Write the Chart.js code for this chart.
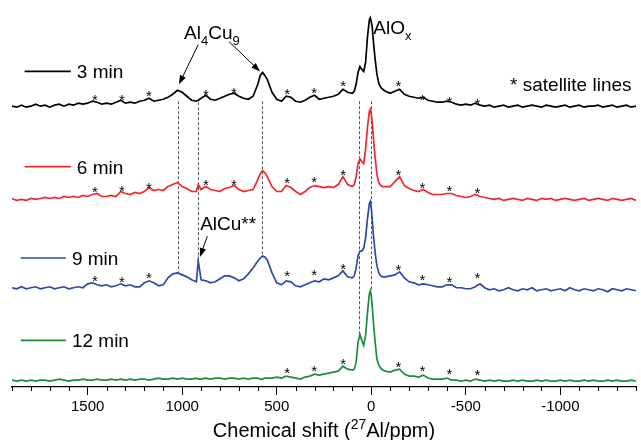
<!DOCTYPE html>
<html>
<head>
<meta charset="utf-8">
<title>27Al NMR spectra</title>
<script src="https://cdn.jsdelivr.net/npm/chart.js@4.4.1/dist/chart.umd.min.js"></script>
<style>
  html, body { margin: 0; padding: 0; background: #fff; }
  canvas { display: block; }
</style>
</head>
<body>
<canvas id="chart" width="641" height="440"></canvas>
<script>
// chemical shift grid (ppm), denser around the peaks
const ppm = [
  1900, 1875, 1850, 1825, 1800, 1775, 1750, 1725, 1700, 1675,
  1650, 1625, 1600, 1575, 1550, 1525, 1500, 1475, 1450, 1425,
  1400, 1375, 1350, 1325, 1300, 1275, 1250, 1225, 1200, 1175,
  1150, 1125, 1100, 1075, 1050, 1025, 1000, 975, 950,
  925, 915, 900,
  875, 850, 825, 800, 775, 750, 725, 700,
  675, 650, 625, 600, 587, 575, 563, 550, 525, 500,
  475, 450, 425, 400, 375, 350, 325, 300,
  275, 250, 225, 200, 175, 150, 125, 100,
  90, 80, 70, 60, 50, 40, 30, 20, 10, 5, 0, -5, -10, -20, -30, -40, -50, -60,
  -75, -100, -125, -150, -175, -200, -225, -250, -275, -300,
  -325, -350, -375, -400, -425, -450, -475, -500, -525, -550,
  -575, -600, -625, -650, -675, -700, -725, -750, -775, -800,
  -825, -850, -875, -900, -925, -950, -975, -1000, -1025, -1050,
  -1075, -1100, -1125, -1150, -1175, -1200, -1225, -1250, -1275, -1300,
  -1325, -1350, -1375, -1400
];

// intensities, relative to its own baseline
const spec3min = [
  0, -1, 1, -1, 0, 2, 0, 1, -1, 1,
  2, 0, 2, 1, 3, 2, 3, 5, 4, 2,
  3, 2, 4, 6, 3, 4, 3, 5, 6, 8,
  5, 6, 7, 9, 12, 16, 14, 10, 6,
  5, 6, 8,
  11, 7, 6, 8, 10, 12, 13, 10,
  8, 7, 10, 22, 31, 34, 31, 27, 14, 7,
  5, 10, 9, 5, 4, 6, 9, 11,
  7, 8, 9, 10, 12, 17, 14, 13,
  15, 22, 34, 40, 37, 35, 44, 70, 87, 89, 85, 80, 68, 48, 32, 23, 19, 17,
  15, 13, 15, 17, 12, 10, 9, 8, 9, 6,
  5, 4, 4, 5, 4, 2, 1, 2, 1, 3,
  1, 0, 1, -1, 0, 1, -1, 0, 1, -1,
  0, 1, 0, -1, 1, 0, -1, 0, 1, -1,
  0, 1, -1, 0, 0, 1, -1, 0, 1, -1,
  0, 1, -1, 0
];
const spec6min = [
  1, -1, 0, -1, 1, 0, 1, 2, 1, 2,
  1, 3, 2, 3, 2, 4, 3, 5, 6, 3,
  3, 4, 3, 8, 6, 5, 7, 6, 8, 12,
  9, 10, 9, 13, 15, 17, 13, 11, 8,
  8, 15, 10,
  13, 10, 9, 8, 11, 12, 14, 10,
  8, 9, 10, 20, 26, 29, 27, 23, 13, 8,
  8, 14, 12, 8, 5, 8, 12, 14,
  13, 12, 13, 12, 15, 23, 15, 13,
  15, 23, 36, 41, 38, 36, 51, 73, 89, 91, 86, 78, 65, 43, 25, 17, 14, 13,
  13, 13, 18, 23, 14, 11, 9, 8, 10, 7,
  5, 5, 5, 6, 6, 4, 3, 2, 3, 5,
  3, 2, 1, 0, 1, -1, 0, 1, 0, -1,
  1, 0, -1, 1, 0, 1, -1, 0, 1, 0,
  -1, 0, 1, -1, 0, 1, 0, -1, 1, 0,
  -1, 0, 1, -1
];
const spec9min = [
  2, 1, 3, 1, 2, 3, 1, 2, 3, 1,
  2, 3, 1, 2, 3, 2, 6, 7, 5, 4,
  5, 3, 4, 6, 4, 5, 3, 3, 7, 9,
  7, 4, 5, 12, 16, 17, 15, 13, 10,
  8, 29, 10,
  9, 7, 8, 11, 14, 14, 12, 9,
  11, 16, 22, 29, 32, 34, 33, 30, 17, 7,
  5, 9, 8, 4, 3, 5, 7, 9,
  8, 11, 10, 12, 14, 19, 13, 12,
  14, 22, 34, 39, 39, 42, 52, 72, 87, 89, 82, 72, 58, 38, 24, 17, 14, 13,
  13, 14, 15, 18, 12, 8, 7, 5, 6, 5,
  4, 3, 3, 5, 5, 2, 2, 1, 1, 3,
  6, 2, 0, 1, -1, 0, 2, 0, -1, 1,
  0, 2, -1, 0, 1, -1, 0, 1, -1, 2,
  0, -1, 1, 0, -1, 1, 0, -2, 1, 0,
  -1, 1, 0, -1
];
const spec12min = [
  1, 0, 1, 0, 1, 0, 1, 1, 0, 1,
  2, 1, 0, 1, 1, 2, 1, 1, 2, 1,
  1, 2, 1, 2, 1, 2, 1, 2, 2, 1,
  2, 3, 2, 2, 3, 2, 3, 2, 2,
  3, 2, 2,
  3, 2, 3, 3, 2, 3, 3, 2,
  3, 2, 3, 3, 2, 2, 3, 3, 3, 4,
  3, 5, 4, 3, 2, 4, 5, 7,
  6, 7, 8, 9, 10, 15, 12, 11,
  12, 19, 39, 47, 41, 36, 46, 69, 88, 91, 86, 76, 62, 40, 22, 16, 13, 11,
  10, 9, 11, 12, 7, 5, 5, 4, 6, 3,
  2, 2, 2, 3, 1, 1, 0, 1, 0, 2,
  1, 0, 1, 0, 1, 0, 0, 1, 0, 1,
  0, 0, 1, 0, 1, 0, 0, 1, 0, 1,
  0, 0, 1, 0, 1, 0, 0, 1, 0, 1,
  0, 0, 1, 0
];

const seriesLabels = ['3 min', '6 min', '9 min', '12 min'];
const seriesData = [spec3min, spec6min, spec9min, spec12min];
const seriesColors = ['#000000', '#f0262b', '#3048a6', '#1c8b3d'];
const stackOffsets = [283, 189, 98, 6];

const tickValues = [1500, 1000, 500, 0, -500, -1000];

// spinning side bands marked with *
const starPpm = [1462, 1319, 1176, 874, 726, 445, 302, 148, -143, -270, -413, -561];
const stars3min = [10, 10, 14, 15, 17, 16, 17, 24, 24, 10, 8, 6];
const stars6min = [11, 12, 15, 18, 18, 20, 21, 28, 28, 15, 12, 10];
const stars9min = [12, 11, 15, null, null, 17, 18, 24, 23, 13, 11, 15];
const stars12min = [null, null, null, null, null, 12, 14, 21, 18, 14, 11, 10];
const seriesStars = [stars3min, stars6min, stars9min, stars12min];

// dashed guide lines: [ppm, from, to]
const guideLines = [[1022, 288, 115], [916, 287, 127], [577, 288, 132], [64, 288, 53], [3, 288, 97]];

const FONT = '"Liberation Sans", Arial, sans-serif';

function richText(ctx, parts, x, yMid, size) {
  const base = yMid + size * 0.36;
  let cx = x;
  for (const [txt, kind] of parts) {
    const fs = kind === 0 ? size : Math.round(size * 0.68);
    ctx.font = fs + 'px ' + FONT;
    const dy = kind < 0 ? size * 0.32 : kind > 0 ? -size * 0.4 : 0;
    ctx.fillText(txt, cx, base + dy);
    cx += ctx.measureText(txt).width;
  }
  return cx - x;
}

function arrow(ctx, x1, y1, x2, y2) {
  const a = Math.atan2(y2 - y1, x2 - x1);
  const len = 9, w = 3.2;
  const c = Math.cos(a), s = Math.sin(a);
  ctx.beginPath();
  ctx.moveTo(x1, y1);
  ctx.lineTo(x2 - c * len * 0.8, y2 - s * len * 0.8);
  ctx.stroke();
  ctx.beginPath();
  ctx.moveTo(x2, y2);
  ctx.lineTo(x2 - len * c + w * s, y2 - len * s - w * c);
  ctx.lineTo(x2 - len * c - w * s, y2 - len * s + w * c);
  ctx.closePath();
  ctx.fill();
}

const decor = {
  id: 'decor',
  beforeDatasetsDraw(chart) {
    const { ctx, scales: { x, y } } = chart;
    ctx.save();
    ctx.strokeStyle = '#555';
    ctx.lineWidth = 1;
    ctx.setLineDash([3, 2]);
    guideLines.forEach(([p, a, b]) => {
      const px = Math.round(x.getPixelForValue(p)) + 0.5;
      ctx.beginPath();
      ctx.moveTo(px, y.getPixelForValue(a));
      ctx.lineTo(px, y.getPixelForValue(b));
      ctx.stroke();
    });
    ctx.restore();
  },
  afterDatasetsDraw(chart) {
    const { ctx, chartArea, scales: { x, y } } = chart;
    ctx.save();
    ctx.fillStyle = '#000';
    ctx.strokeStyle = '#000';

    // side band stars
    ctx.font = '15px ' + FONT;
    ctx.textAlign = 'center';
    ctx.textBaseline = 'alphabetic';
    seriesStars.forEach((list, i) => {
      list.forEach((h, j) => {
        if (h === null) return;
        ctx.fillText('*', x.getPixelForValue(starPpm[j]), y.getPixelForValue(stackOffsets[i] + h) + 8.5);
      });
    });

    // legend entries next to each trace
    const legendFrom = [1833, 1833, 1854, 1854];
    const legendTo = [1589, 1589, 1615, 1615];
    const legendY = [318, 222, 130, 47];
    ctx.textAlign = 'left';
    seriesLabels.forEach((lab, i) => {
      const py = y.getPixelForValue(legendY[i]);
      const x2 = x.getPixelForValue(legendTo[i]);
      ctx.strokeStyle = seriesColors[i];
      ctx.lineWidth = 1.7;
      ctx.beginPath();
      ctx.moveTo(x.getPixelForValue(legendFrom[i]), py);
      ctx.lineTo(x2, py);
      ctx.stroke();
      ctx.fillStyle = '#000';
      richText(ctx, [[lab, 0]], x2 + 6, py, 19);
    });

    // peak labels
    ctx.fillStyle = '#000';
    ctx.strokeStyle = '#000';
    ctx.lineWidth = 1;
    const px = v => x.getPixelForValue(v);
    const py = v => y.getPixelForValue(v);
    richText(ctx, [['Al', 0], ['4', -1], ['Cu', 0], ['9', -1]], px(990), py(358), 19);
    richText(ctx, [['AlO', 0], ['x', -1]], px(-11), py(363), 19);
    richText(ctx, [['* satellite lines', 0]], px(-734), py(305), 19);
    richText(ctx, [['AlCu**', 0]], px(905), py(165), 19);
    arrow(ctx, px(915), py(345), px(1017), py(305));
    arrow(ctx, px(752), py(348), px(588), py(318));
    arrow(ctx, px(867), py(152), px(906), py(131));

    // minor ticks every 100 ppm
    ctx.lineWidth = 1;
    for (let v = -1400; v <= 1900; v += 100) {
      if (v % 500 === 0) continue;
      const tx = Math.round(px(v)) + 0.5;
      ctx.beginPath();
      ctx.moveTo(tx, chartArea.bottom);
      ctx.lineTo(tx, chartArea.bottom + 4);
      ctx.stroke();
    }

    // axis title with superscript
    const parts = [['Chemical shift (', 0], ['27', 1], ['Al/ppm)', 0]];
    let w = 0;
    parts.forEach(([t, k]) => {
      ctx.font = (k === 0 ? 20 : 14) + 'px ' + FONT;
      w += ctx.measureText(t).width;
    });
    richText(ctx, parts, (chartArea.left + chartArea.right) / 2 - w / 2, 430, 20);
    ctx.restore();
  }
};

new Chart(document.getElementById('chart'), {
  type: 'line',
  data: {
    datasets: seriesData.map((vals, i) => ({
      label: seriesLabels[i],
      data: vals.map((v, j) => ({ x: ppm[j], y: stackOffsets[i] + v })),
      borderColor: seriesColors[i],
      borderWidth: 1.7,
      pointRadius: 0,
      tension: 0,
      fill: false
    }))
  },
  options: {
    responsive: false,
    animation: false,
    layout: { padding: { left: 12, right: 5, top: 0, bottom: 21 } },
    plugins: { legend: { display: false }, tooltip: { enabled: false } },
    scales: {
      x: {
        type: 'linear',
        reverse: true,
        min: -1400,
        max: 1900,
        afterBuildTicks: s => { s.ticks = tickValues.map(v => ({ value: v })); },
        ticks: {
          color: '#000',
          padding: 3,
          maxRotation: 0,
          font: { family: FONT, size: 15 },
          callback: v => String(v)
        },
        grid: {
          drawOnChartArea: false,
          tickLength: 8,
          tickColor: '#000',
          color: '#000'
        },
        border: { display: true, color: '#000', width: 1.2 }
      },
      y: { display: false, min: 0, max: 390 }
    }
  },
  plugins: [decor]
});
</script>
</body>
</html>
